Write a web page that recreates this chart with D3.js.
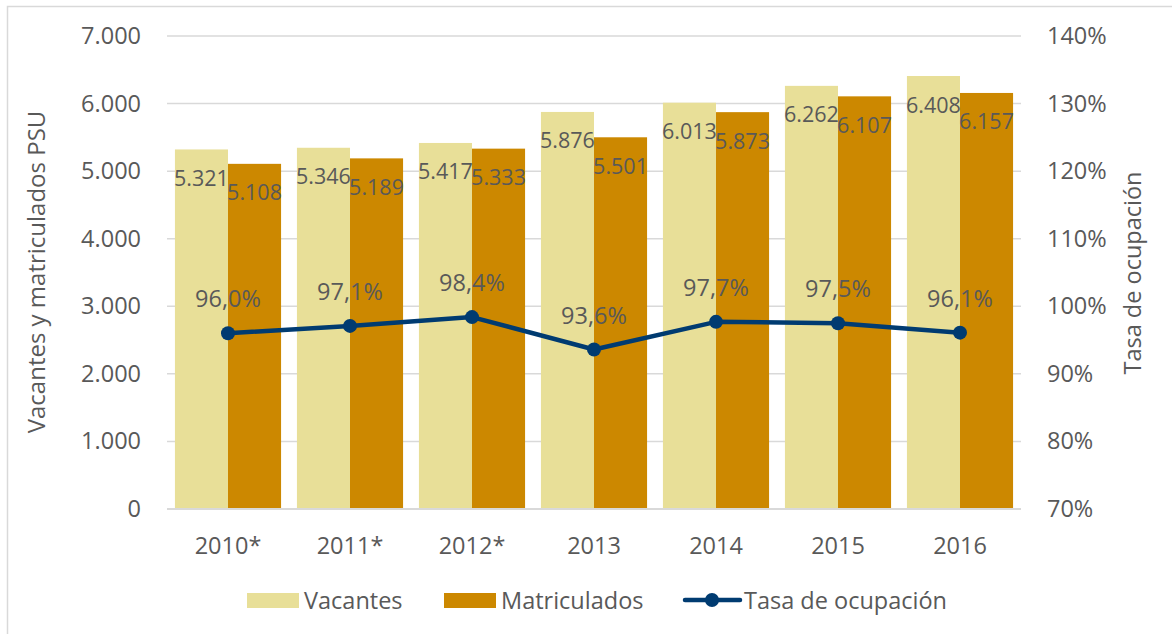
<!DOCTYPE html>
<html><head><meta charset="utf-8">
<script src="https://cdn.jsdelivr.net/npm/d3@7"></script>
<style>body{margin:0;background:#fff}svg{display:block}text{font-family:"Open Sans",sans-serif;fill:#595959}</style>
</head><body><svg id="c" width="1172" height="634"></svg>
<script>
const categories = ["2010*","2011*","2012*","2013","2014","2015","2016"];
const vacantes = [5321,5346,5417,5876,6013,6262,6408];
const matriculados = [5108,5189,5333,5501,5873,6107,6157];
const tasa = [96.0,97.1,98.4,93.6,97.7,97.5,96.1];
const leftTicks = [0,1000,2000,3000,4000,5000,6000,7000];
const rightTicks = [70,80,90,100,110,120,130,140];

const FS = "23.5px";
const svg = d3.select("#c");
const M = {l:167, r:1021, t:36, b:509};
svg.append("rect").attr("x",7.5).attr("y",6.5).attr("width",1200).attr("height",700)
  .attr("fill","#fff").attr("stroke","#d9d9d9").attr("stroke-width",1.5);

const x = d3.scaleBand().domain(categories).range([M.l,M.r]).paddingInner(0.13).paddingOuter(0.065);
const xs = d3.scaleBand().domain(["v","m"]).range([0,x.bandwidth()]);
const y = d3.scaleLinear().domain([0,7000]).range([M.b,M.t]);
const y2 = d3.scaleLinear().domain([70,140]).range([M.b,M.t]);
const fmtN = d3.formatLocale({decimal:",",thousands:".",grouping:[3],currency:["",""]}).format(",.0f");
const fmtP = d => d.toFixed(1).replace(".",",")+"%";

// gridlines
svg.append("g").selectAll("line").data(leftTicks.filter(d=>d>0)).join("line")
  .attr("x1",M.l).attr("x2",M.r).attr("y1",d=>y(d)).attr("y2",d=>y(d))
  .attr("stroke","#d9d9d9").attr("stroke-width",1.5);

// left axis labels
const ga = d3.axisLeft(y).tickValues(leftTicks).tickFormat(fmtN).tickSize(0).tickPadding(0);
const gL = svg.append("g").attr("transform",`translate(141,0)`).call(ga);
gL.select(".domain").remove();
gL.selectAll("text").style("font-size",FS).attr("fill","#595959").style("font-family","Open Sans");

const ga2 = d3.axisRight(y2).tickValues(rightTicks).tickFormat(d=>d+"%").tickSize(0).tickPadding(0);
const gR = svg.append("g").attr("transform",`translate(1047,0)`).call(ga2);
gR.select(".domain").remove();
gR.selectAll("text").style("font-size",FS).attr("fill","#595959").style("font-family","Open Sans");

// bars
const groups = svg.append("g").selectAll("g").data(categories).join("g")
  .attr("transform",d=>`translate(${x(d)},0)`);
groups.append("rect").attr("x",xs("v")).attr("width",xs.bandwidth())
  .attr("y",(d,i)=>y(vacantes[i])).attr("height",(d,i)=>y(0)-y(vacantes[i])).attr("fill","#E8DF98");
groups.append("rect").attr("x",xs("m")).attr("width",xs.bandwidth())
  .attr("y",(d,i)=>y(matriculados[i])).attr("height",(d,i)=>y(0)-y(matriculados[i])).attr("fill","#CC8800");
groups.append("text").attr("x",xs("v")+xs.bandwidth()/2).attr("y",(d,i)=>y(vacantes[i])+28)
  .attr("text-anchor","middle").attr("dominant-baseline","central").style("font-size","21.5px").attr("fill","#404040")
  .text((d,i)=>fmtN(vacantes[i]));
groups.append("text").attr("x",xs("m")+xs.bandwidth()/2).attr("y",(d,i)=>y(matriculados[i])+28)
  .attr("text-anchor","middle").attr("dominant-baseline","central").style("font-size","21.5px").attr("fill","#404040")
  .text((d,i)=>fmtN(matriculados[i]));

// x axis
svg.append("line").attr("x1",M.l).attr("x2",M.r).attr("y1",M.b).attr("y2",M.b).attr("stroke","#d9d9d9").attr("stroke-width",2);
const gx = svg.append("g").attr("transform",`translate(0,${M.b})`)
  .call(d3.axisBottom(x).tickSize(0).tickPadding(0));
gx.select(".domain").remove();
gx.selectAll("text").attr("y",36).attr("dy","0").attr("dominant-baseline","central")
  .style("font-size",FS).attr("fill","#595959").style("font-family","Open Sans");

// line
const cx = d => x(d)+x.bandwidth()/2;
svg.append("path").datum(tasa).attr("fill","none").attr("stroke","#003B71").attr("stroke-width",4.5)
  .attr("stroke-linejoin","round")
  .attr("d",d3.line().x((d,i)=>cx(categories[i])).y(d=>y2(d)));
svg.append("g").selectAll("circle").data(tasa).join("circle")
  .attr("cx",(d,i)=>cx(categories[i])).attr("cy",d=>y2(d)).attr("r",7).attr("fill","#003B71");
svg.append("g").selectAll("text").data(tasa).join("text")
  .attr("x",(d,i)=>cx(categories[i])).attr("y",d=>y2(d)-35)
  .attr("text-anchor","middle").attr("dominant-baseline","central").style("font-size",FS).attr("fill","#404040")
  .text(fmtP);

// axis titles
svg.append("text").attr("transform","translate(35,272) rotate(-90)").attr("text-anchor","middle")
  .attr("dominant-baseline","central").style("font-size","24px").attr("fill","#3a3a3a").text("Vacantes y matriculados PSU");
svg.append("text").attr("transform","translate(1132,273) rotate(-90)").attr("text-anchor","middle")
  .attr("dominant-baseline","central").style("font-size",FS).attr("fill","#595959").text("Tasa de ocupación");

// legend
const ly = 600;
svg.append("rect").attr("x",247).attr("y",593).attr("width",52).attr("height",15).attr("fill","#E8DF98");
svg.append("text").attr("x",304).attr("y",ly).attr("dominant-baseline","central").style("font-size",FS).text("Vacantes");
svg.append("rect").attr("x",444).attr("y",593).attr("width",52).attr("height",15).attr("fill","#CC8800");
svg.append("text").attr("x",501).attr("y",ly).attr("dominant-baseline","central").style("font-size",FS).text("Matriculados");
svg.append("line").attr("x1",685).attr("x2",740).attr("y1",ly).attr("y2",ly).attr("stroke","#003B71").attr("stroke-width",4.5).attr("stroke-linecap","round");
svg.append("circle").attr("cx",712).attr("cy",ly).attr("r",7).attr("fill","#003B71");
svg.append("text").attr("x",744).attr("y",ly).attr("dominant-baseline","central").style("font-size",FS).text("Tasa de ocupación");
</script></body></html>
